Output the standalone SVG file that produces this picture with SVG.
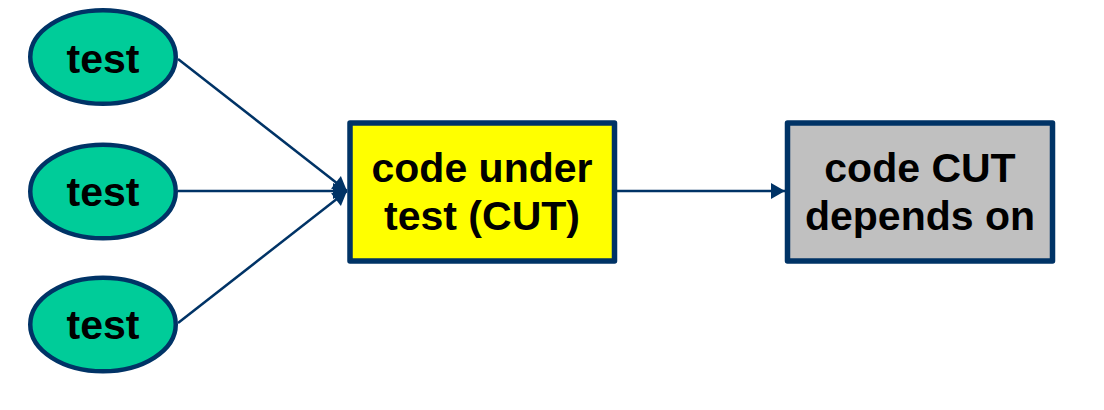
<svg xmlns="http://www.w3.org/2000/svg" width="1104" height="410" viewBox="0 0 1104 410">
<style>
.ell{fill:#00CC99;stroke:#003366;stroke-width:4.5}
.box{stroke:#003366;stroke-width:5.5;stroke-linejoin:round}
.lbl{font-family:"Liberation Sans",Arial,sans-serif;font-weight:bold;font-size:41px;fill:#000;text-anchor:middle}
.con{stroke:#003366;stroke-width:2.5;fill:none;marker-end:url(#ah)}
</style>
<defs>
<marker id="ah" markerUnits="userSpaceOnUse" markerWidth="14" markerHeight="16" refX="14" refY="8" orient="auto" overflow="visible">
<path d="M0,0 L14,8 L0,16 z" fill="#003366"/>
</marker>
</defs>
<rect width="1104" height="410" fill="#fff"/>
<g id="connectors">
<line class="con" x1="178" y1="59" x2="347" y2="191"/>
<line class="con" x1="178" y1="191" x2="347" y2="191"/>
<line class="con" x1="178" y1="323" x2="347" y2="191"/>
<line class="con" x1="617" y1="191" x2="785" y2="191"/>
</g>
<g id="test1">
<ellipse class="ell" cx="103" cy="57" rx="72.75" ry="46.75"/>
<text class="lbl" x="103" y="73">test</text>
</g>
<g id="test2">
<ellipse class="ell" cx="103" cy="191.5" rx="72.75" ry="46.75"/>
<text class="lbl" x="103" y="206">test</text>
</g>
<g id="test3">
<ellipse class="ell" cx="103" cy="324.5" rx="72.75" ry="46.75"/>
<text class="lbl" x="103" y="339">test</text>
</g>
<g id="cut">
<rect class="box" x="350" y="123" width="264.5" height="138" fill="#FFFF00"/>
<text class="lbl" x="482" y="182">code under</text>
<text class="lbl" x="482" y="230">test (CUT)</text>
</g>
<g id="dep">
<rect class="box" x="787.5" y="123" width="265" height="138" fill="#C0C0C0"/>
<text class="lbl" x="920" y="182">code CUT</text>
<text class="lbl" x="920" y="230">depends on</text>
</g>
</svg>
